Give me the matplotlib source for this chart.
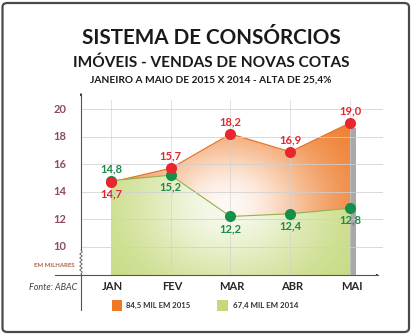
import numpy as np
import matplotlib
matplotlib.use("Agg")
import matplotlib.pyplot as plt
from matplotlib.patches import Polygon, Rectangle, FancyBboxPatch, FancyArrowPatch
from matplotlib.colors import to_rgb

plt.rcParams['font.family'] = ['Lato', 'DejaVu Sans']

# Data (thousands of new quotas sold)
months = ["JAN", "FEV", "MAR", "ABR", "MAI"]
sales_2015 = [14.7, 15.7, 18.2, 16.9, 19.0]
sales_2014 = [14.8, 15.2, 12.2, 12.4, 12.8]
labels_2015 = ["14,7", "15,7", "18,2", "16,9", "19,0"]
labels_2014 = ["14,8", "15,2", "12,2", "12,4", "12,8"]
y_ticks = [10, 12, 14, 16, 18, 20]
legend_2015 = "84,5 MIL EM 2015"
legend_2014 = "67,4 MIL EM 2014"

W, H = 414, 334
fig = plt.figure(figsize=(W / 100, H / 100), dpi=100)
fig.patch.set_facecolor("white")

# rounded frame around the whole chart
frame = FancyBboxPatch((2.5 / W, 2 / H), (409 / W) - (2.5 / W), (331 / H) - (2 / H),
                       boxstyle="round,pad=0,rounding_size=0.012",
                       transform=fig.transFigure, fill=False,
                       edgecolor="#4a4a4a", linewidth=1.6)
fig.add_artist(frame)

def fx(px):
    return np.asarray(px) / W

def fy(py):
    return 1 - np.asarray(py) / H

# axes geometry (pixel layout)
ax_left, ax_right = 81, 383
ax_top, ax_bot = 91.2, 275
ymin, ymax = 7.95, 21.3
x0_px, step_px = 111, 59.75
px_per_unit = 13.77
xmin = (ax_left - x0_px) / step_px
xmax = (ax_right - x0_px) / step_px

ax = fig.add_axes([fx(ax_left), fy(ax_bot), (ax_right - ax_left) / W, (ax_bot - ax_top) / H])
ax.set_xlim(xmin, xmax)
ax.set_ylim(ymin, ymax)
ax.axis("off")

x = np.arange(len(months))

# gradient-filled areas
orange = np.array(to_rgb("#ee7a28"))
green = np.array(to_rgb("#c4d97c"))
gx = np.linspace(xmin, xmax, 400)
gy = np.linspace(ymin, ymax, 300)
GX, GY = np.meshgrid(gx, gy)
cx, cy = 1.95, 13.0
dpx = np.hypot((GX - cx) * step_px, (GY - cy) * px_per_unit * 1.25)

def gradient(base, radius, strength):
    w = strength * np.exp(-(dpx / radius) ** 2)
    return base[None, None, :] * (1 - w[..., None]) + w[..., None]

poly_2015 = Polygon(list(zip(x, sales_2015)) + [(x[-1], ymin), (x[0], ymin)], closed=True,
                    facecolor="none", edgecolor="none")
ax.add_patch(poly_2015)
im1 = ax.imshow(gradient(orange, 95, 0.95), extent=[xmin, xmax, ymin, ymax], origin="lower",
                aspect="auto", zorder=1)
im1.set_clip_path(poly_2015)
ax.plot(x, sales_2015, color="#e2701f", lw=0.8, zorder=2)

poly_2014 = Polygon(list(zip(x, sales_2014)) + [(x[-1], ymin), (x[0], ymin)], closed=True,
                    facecolor="none", edgecolor="none")
ax.add_patch(poly_2014)
im2 = ax.imshow(gradient(green, 95, 0.85), extent=[xmin, xmax, ymin, ymax], origin="lower",
                aspect="auto", zorder=3)
im2.set_clip_path(poly_2014)
ax.plot(x, sales_2014, color="#93b04c", lw=0.8, zorder=4)

# side wall at the last month
ax.add_patch(Rectangle((x[-1], ymin), 6 / step_px, sales_2015[-1] - 0.4 - ymin,
                       facecolor="#a8a8a8", edgecolor="none", zorder=4))

# grid
for v in y_ticks:
    ax.plot([xmin, xmax], [v, v], color="#d0d0d0", lw=0.7, alpha=0.8, zorder=5)
for xi in x:
    ax.plot([xi, xi], [ymin, 20.65], color="#cfcfcf", lw=0.7, alpha=0.6, zorder=5)

# markers and value labels
ax.plot(x, sales_2015, "o", color="#e8262e", ms=8, mec="none", zorder=7)
ax.plot(x, sales_2014, "o", color="#13904a", ms=8, mec="none", zorder=6)
off = 12 / px_per_unit
for i in range(len(months)):
    up15 = sales_2015[i] >= sales_2014[i]
    ax.text(x[i], sales_2015[i] + (off if up15 else -off), labels_2015[i],
            ha="center", va="center", fontsize=8, fontweight="bold", color="#e0282e", zorder=8)
    ax.text(x[i], sales_2014[i] + (-off if up15 else off), labels_2014[i],
            ha="center", va="center", fontsize=8, fontweight="bold", color="#1d8a4b", zorder=8)

# y tick labels
for v in y_ticks:
    fig.text(fx(60), fy(246.7 - (v - 10) * px_per_unit), str(v), ha="center", va="center",
             fontsize=8, fontweight="bold", color="#8b4c5e")
fig.text(fx(54), fy(265.5), "EM MILHARES", ha="center", va="center", fontsize=4.3,
         fontweight="bold", color="#b0604a")

# axis lines with a break mark on the value axis
lc = "#555555"
fig.add_artist(plt.Line2D([fx(55), fx(378)], [fy(275), fy(275)], color=lc, lw=0.8))
fig.add_artist(plt.Line2D([fx(81), fx(81)], [fy(250), fy(95)], color=lc, lw=0.8))
fig.add_artist(plt.Line2D([fx(81), fx(81)], [fy(274), fy(310)], color=lc, lw=0.8))
zz_y = np.linspace(250, 274, 13)
zz_x = 81 + np.array([0 if k in (0, 12) else (1.3 if k % 2 else -1.3) for k in range(13)])
fig.add_artist(plt.Line2D(fx(zz_x), fy(zz_y), color=lc, lw=0.6))
arrow_style = dict(arrowstyle="-|>,head_length=0.35,head_width=0.15", color="#222222", lw=0.8)
fig.add_artist(FancyArrowPatch((fx(81), fy(97)), (fx(81), fy(91)),
                               transform=fig.transFigure, **arrow_style))
fig.add_artist(FancyArrowPatch((fx(374), fy(275)), (fx(381), fy(275)),
                               transform=fig.transFigure, **arrow_style))

# month labels
for i, m in enumerate(months):
    fig.text(fx(x0_px + i * step_px + 1.5), fy(287), m, ha="center", va="center",
             fontsize=8, fontweight="bold", color="#262626")
fig.text(fx(53.5), fy(287), "Fonte: ABAC", ha="center", va="center", fontsize=6.5,
         fontstyle="italic", color="#404040")

# titles
fig.text(fx(211.5), fy(38), "SISTEMA DE CONSÓRCIOS", ha="center", va="center",
         fontsize=14.9, fontweight="bold", color="#1a1a1a")
fig.text(fx(211.5), fy(63), "IMÓVEIS - VENDAS DE NOVAS COTAS", ha="center", va="center",
         fontsize=11.1, fontweight="bold", color="#1a1a1a")
fig.text(fx(210.5), fy(80.5), "JANEIRO A MAIO DE 2015 X 2014 - ALTA DE 25,4%", ha="center",
         va="center", fontsize=7.3, fontweight="bold", color="#1a1a1a")

# legend
fig.add_artist(Rectangle((fx(112), fy(310.5)), 10 / W, 10.5 / H, transform=fig.transFigure,
                         facecolor="#ee7a28", edgecolor="none"))
fig.text(fx(126), fy(305), legend_2015, ha="left", va="center", fontsize=5.6,
         fontweight="bold", color="#333333")
fig.add_artist(Rectangle((fx(217.5), fy(310.5)), 10.5 / W, 10.5 / H, transform=fig.transFigure,
                         facecolor="#c4d97c", edgecolor="none"))
fig.text(fx(233), fy(305), legend_2014, ha="left", va="center", fontsize=5.7,
         fontweight="bold", color="#333333")

fig.savefig("out.png", dpi=100, facecolor="white")
